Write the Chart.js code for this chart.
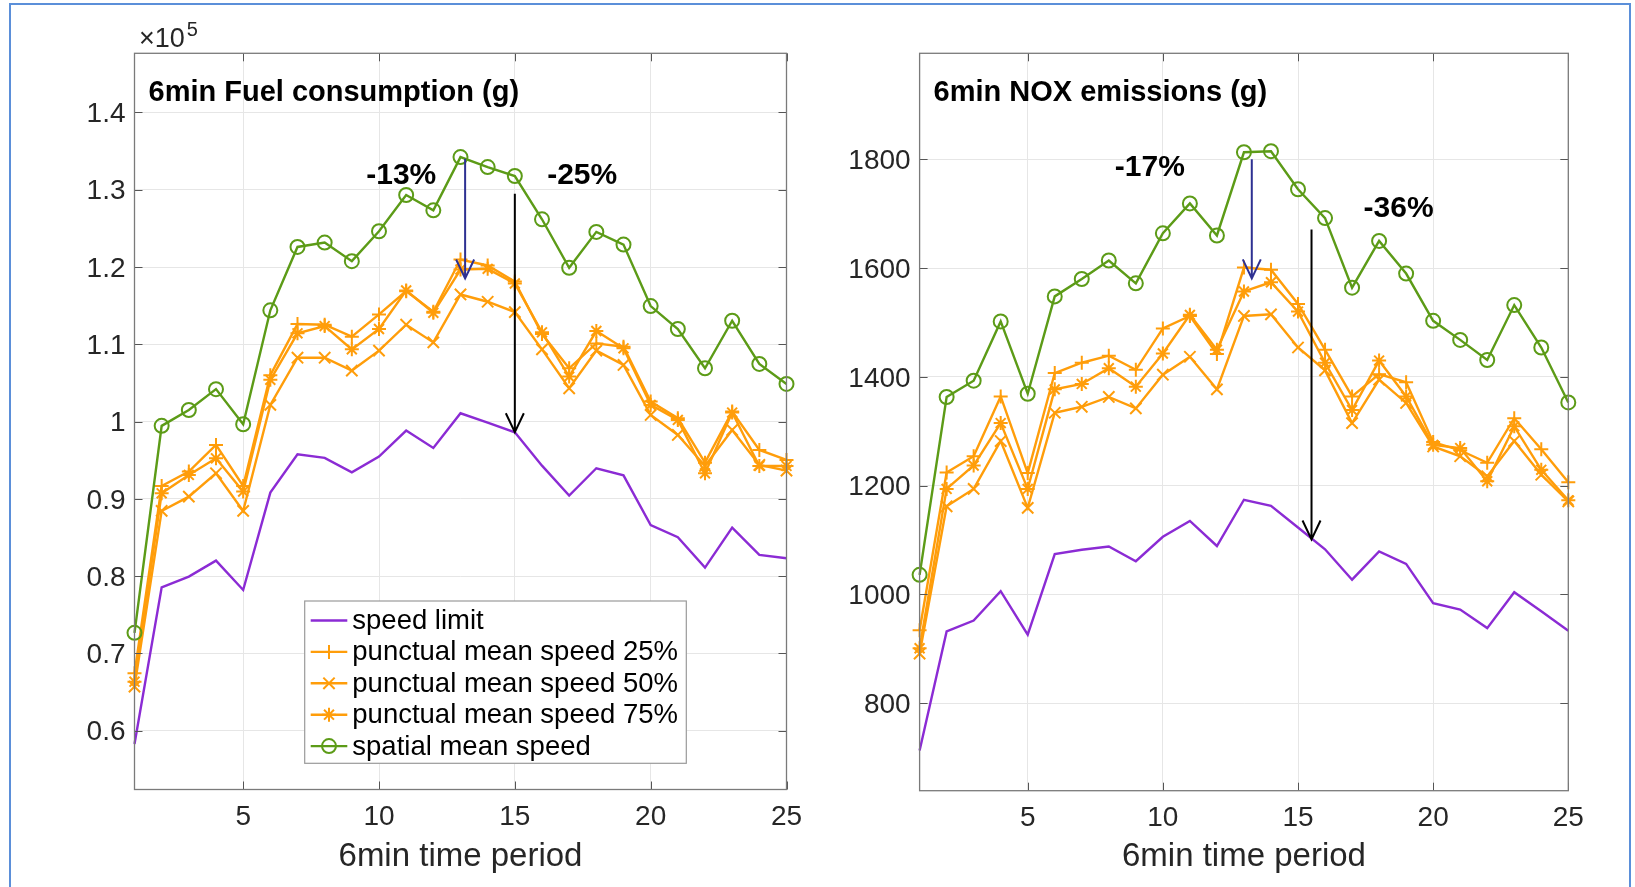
<!DOCTYPE html>
<html><head><meta charset="utf-8">
<script src="https://cdn.jsdelivr.net/npm/chart.js@4.4.0/dist/chart.umd.min.js"></script>
<style>
html,body{margin:0;padding:0;background:#fff;width:1635px;height:887px;overflow:hidden}
#c1{position:absolute;left:0;top:0}
#c2{position:absolute;left:830px;top:0}
#frame{position:absolute;left:9px;top:3px;width:1622px;height:900px;border:2px solid #5b8fd9;box-sizing:border-box;pointer-events:none}
</style></head><body>
<canvas id="c1" width="820" height="887"></canvas>
<canvas id="c2" width="805" height="887"></canvas>
<div id="frame"></div>
<script>
// ---------- data ----------
const periods = [1,2,3,4,5,6,7,8,9,10,11,12,13,14,15,16,17,18,19,20,21,22,23,24,25];
const periodTicks = [5,10,15,20,25];
const seriesNames = ['speed limit','punctual mean speed 25%','punctual mean speed 50%','punctual mean speed 75%','spatial mean speed'];

// Fuel consumption (g)
const fuelSpeedLimit = [58270,78550,79940,82010,78210,90810,95770,95300,93440,95470,98840,96590,101080,99870,98620,94300,90420,93960,93050,86620,85030,81100,86280,82740,82310];
const fuel25 = [67420,91670,93530,96980,91670,106000,112620,112540,110990,113870,116880,114210,120970,120200,118130,111330,106900,110120,109690,102590,100440,94690,101290,96330,95040];
const fuel50 = [65700,88440,90290,93310,88440,102160,108270,108270,106600,109180,112540,110250,116450,115510,114170,109350,104310,109180,107330,100860,98270,94260,98920,94390,93660];
const fuel75 = [66340,90720,93100,95250,90940,105400,111420,112360,109350,111980,116970,114080,119680,119770,117870,111550,105820,111720,109480,102160,100220,93310,101170,94260,94260];
const fuelSpatial = [72670,99450,101500,104200,99660,114400,122600,123170,120760,124630,129320,127340,134230,132940,131780,126180,119900,124550,122910,114950,111980,106900,113050,107460,104870];
const fuelTickValues = [60000,70000,80000,90000,100000,110000,120000,130000,140000];

// NOX emissions (g)
const noxSpeedLimit = [713,932,952,1006,926,1074,1082,1088,1061,1106,1135,1089,1174,1163,1123,1083,1027,1079,1056,984,972,938,1004,969,933];
const nox25 = [934,1224,1254,1364,1223,1407,1426,1439,1413,1489,1512,1442,1601,1597,1534,1450,1364,1405,1390,1280,1265,1242,1324,1267,1206];
const nox50 = [891,1162,1194,1282,1159,1334,1345,1363,1342,1404,1437,1377,1512,1515,1454,1412,1315,1395,1352,1272,1254,1217,1282,1220,1171];
const nox75 = [901,1194,1237,1315,1194,1377,1387,1416,1382,1443,1514,1450,1557,1574,1520,1426,1339,1430,1364,1275,1269,1208,1309,1229,1173];
const noxSpatial = [1036,1363,1393,1502,1369,1548,1580,1614,1572,1664,1719,1660,1813,1815,1745,1692,1564,1650,1590,1503,1468,1431,1532,1454,1353];
const noxTickValues = [800,1000,1200,1400,1600,1800];

// annotations (data coordinates)
const fuelArrowX = [13.17, 15];
const fuelArrowFrom = [134020, 129500];
const fuelArrowTo = [118520, 98620];
const fuelPctText = ['-13%','-25%'];
const fuelPctX = [10.82, 17.48];
const fuelPctY = [130690, 130690];

const noxArrowX = [13.29, 15.5];
const noxArrowFrom = [1800, 1671];
const noxArrowTo = [1581, 1101];
const noxPctText = ['-17%','-36%'];
const noxPctX = [9.52, 18.72];
const noxPctY = [1769, 1694];

// ---------- styles ----------
const FONT = "'Liberation Sans', Arial, Helvetica, sans-serif";
Chart.defaults.font.family = FONT;
const ORANGE = '#ff9d0a', GREEN = '#5c9b17', PURPLE = '#8b2bd4';
const seriesStyle = [
  {color:PURPLE, point:'circle', radius:0},
  {color:ORANGE, point:'cross', radius:7},
  {color:ORANGE, point:'crossRot', radius:8},
  {color:ORANGE, point:'star', radius:7},
  {color:GREEN, point:'circle', radius:7}
];
const arrowColors = ['#2e3192', '#000000'];

function makeDatasets(arrs){
  return arrs.map((arr,i)=>({
    label: seriesNames[i],
    data: periods.map((p,k)=>({x:p, y:arr[k]})),
    borderColor: seriesStyle[i].color,
    backgroundColor: 'rgba(0,0,0,0)',
    pointStyle: seriesStyle[i].point,
    pointRadius: seriesStyle[i].radius,
    pointBorderColor: seriesStyle[i].color,
    pointBackgroundColor: 'rgba(0,0,0,0)',
    pointBorderWidth: 2,
    borderWidth: 2.4,
    tension: 0,
    clip: false,
    order: 4 - i
  }));
}

function drawMarker(ctx, style, r, x, y){
  ctx.beginPath();
  if (style === 'circle') { ctx.arc(x, y, r, 0, Math.PI*2); }
  if (style === 'cross' || style === 'star') { ctx.moveTo(x-r,y); ctx.lineTo(x+r,y); ctx.moveTo(x,y-r); ctx.lineTo(x,y+r); }
  if (style === 'crossRot' || style === 'star') { const d = r*0.7071; ctx.moveTo(x-d,y-d); ctx.lineTo(x+d,y+d); ctx.moveTo(x-d,y+d); ctx.lineTo(x+d,y-d); }
  ctx.stroke();
}

const decorPlugin = {
  id: 'matlabDecor',
  afterDatasetsDraw(chart, args, o){
    const ctx = chart.ctx, a = chart.chartArea, xs = chart.scales.x, ys = chart.scales.y;
    ctx.save();
    // inward tick marks
    ctx.strokeStyle = '#555'; ctx.lineWidth = 1;
    ctx.beginPath();
    xs.ticks.forEach(t=>{ const px = Math.round(xs.getPixelForValue(t.value))+0.5;
      ctx.moveTo(px, a.bottom); ctx.lineTo(px, a.bottom-8); ctx.moveTo(px, a.top); ctx.lineTo(px, a.top+8); });
    ys.ticks.forEach(t=>{ const py = Math.round(ys.getPixelForValue(t.value))+0.5;
      ctx.moveTo(a.left, py); ctx.lineTo(a.left+8, py); ctx.moveTo(a.right, py); ctx.lineTo(a.right-8, py); });
    ctx.stroke();
    // box
    ctx.strokeStyle = '#7a7a7a'; ctx.lineWidth = 1.3;
    ctx.strokeRect(a.left, a.top, a.right-a.left, a.bottom-a.top);
    // arrows
    o.arrowX.forEach((xv,i)=>{
      const px = xs.getPixelForValue(xv), y1 = ys.getPixelForValue(o.arrowFrom[i]), y2 = ys.getPixelForValue(o.arrowTo[i]);
      ctx.strokeStyle = arrowColors[i]; ctx.lineWidth = 2;
      ctx.beginPath(); ctx.moveTo(px,y1); ctx.lineTo(px,y2);
      ctx.moveTo(px-9,y2-19); ctx.lineTo(px,y2); ctx.lineTo(px+9,y2-19);
      ctx.stroke();
    });
    // percentage labels
    ctx.fillStyle = '#000'; ctx.font = 'bold 30px ' + FONT; ctx.textAlign = 'center'; ctx.textBaseline = 'alphabetic';
    o.pctText.forEach((t,i)=>{ ctx.fillText(t, xs.getPixelForValue(o.pctX[i]), ys.getPixelForValue(o.pctY[i])); });
    // in-axes title
    ctx.textAlign = 'left'; ctx.font = 'bold 29px ' + FONT;
    ctx.fillText(o.title, a.left+14, a.top+47.7);
    // exponent label
    if (o.exponent){
      ctx.fillStyle = '#262626'; ctx.font = '27px ' + FONT;
      const ex = a.left+4.5, ey = a.top-6.6;
      ctx.fillText('\u00d710', ex, ey);
      const w = ctx.measureText('\u00d710').width;
      ctx.font = '20px ' + FONT;
      ctx.fillText(o.exponent, ex+w+2, a.top-17.5);
    }
    // legend
    if (o.legend){
      const L = o.legend;
      const x0 = a.left + L.dx, y0 = a.top + L.dy;
      ctx.fillStyle = '#fff'; ctx.fillRect(x0, y0, L.w, L.h);
      ctx.strokeStyle = '#9a9a9a'; ctx.lineWidth = 1.2; ctx.strokeRect(x0, y0, L.w, L.h);
      ctx.font = '27.5px ' + FONT; ctx.textBaseline = 'middle'; ctx.textAlign = 'left';
      chart.data.datasets.forEach((ds,i)=>{
        const cy = y0 + L.first + i*L.gap;
        ctx.strokeStyle = ds.borderColor; ctx.lineWidth = 2.4;
        ctx.beginPath(); ctx.moveTo(x0+6, cy); ctx.lineTo(x0+42.6, cy); ctx.stroke();
        if (ds.pointRadius > 0){ ctx.lineWidth = 2; drawMarker(ctx, ds.pointStyle, ds.pointRadius, x0+24.3, cy); }
        ctx.fillStyle = '#000';
        ctx.fillText(ds.label, x0+47.6, cy+1);
      });
    }
    ctx.restore();
  }
};

function makeOptions(c){
  return {
    responsive:false, animation:false, events:[],
    layout:{padding:{left:0, top:53.3, right:c.right, bottom:0}},
    plugins:{legend:{display:false}, tooltip:{enabled:false}, matlabDecor:c.decor},
    scales:{
      x:{type:'linear', min:1, max:25,
         afterBuildTicks: s=>{ s.ticks = periodTicks.map(v=>({value:v})); },
         afterFit: s=>{ s.height = c.xHeight; },
         grid:{color:'#e6e6e6', lineWidth:1, drawTicks:false}, border:{display:false},
         ticks:{padding:11, color:'#262626', font:{size:28}, maxRotation:0, autoSkip:false},
         title:{display:true, text:'6min time period', color:'#262626', font:{size:33}, padding:{top:0, bottom:10}}},
      y:{type:'linear', min:c.ymin, max:c.ymax,
         afterBuildTicks: s=>{ s.ticks = c.yTicks.map(v=>({value:v})); },
         afterFit: s=>{ s.width = c.yWidth; },
         grid:{color:'#e6e6e6', lineWidth:1, drawTicks:false}, border:{display:false},
         ticks:{padding:9, labelOffset:2, color:'#262626', font:{size:28}, callback:c.fmt}}
    }
  };
}

new Chart(document.getElementById('c1'), {
  type:'line',
  data:{datasets: makeDatasets([fuelSpeedLimit, fuel25, fuel50, fuel75, fuelSpatial])},
  options: makeOptions({
    right: 820-786.5, xHeight: 887-789.5, yWidth: 134.5,
    ymin: 52390, ymax: 147660, yTicks: fuelTickValues,
    fmt: v=>String(Math.round(v/1e4)/10),
    decor:{title:'6min Fuel consumption (g)', exponent:'5',
      arrowX:fuelArrowX, arrowFrom:fuelArrowFrom, arrowTo:fuelArrowTo,
      pctText:fuelPctText, pctX:fuelPctX, pctY:fuelPctY,
      legend:{dx:170.2, dy:547.7, w:381.6, h:162.3, first:19.5, gap:31.4}}
  }),
  plugins:[decorPlugin]
});

new Chart(document.getElementById('c2'), {
  type:'line',
  data:{datasets: makeDatasets([noxSpeedLimit, nox25, nox50, nox75, noxSpatial])},
  options: makeOptions({
    right: 805-738.3, xHeight: 887-790.7, yWidth: 89.6,
    ymin: 639, ymax: 1995, yTicks: noxTickValues,
    fmt: v=>String(v),
    decor:{title:'6min NOX emissions (g)', exponent:null,
      arrowX:noxArrowX, arrowFrom:noxArrowFrom, arrowTo:noxArrowTo,
      pctText:noxPctText, pctX:noxPctX, pctY:noxPctY, legend:null}
  }),
  plugins:[decorPlugin]
});
</script></body></html>
